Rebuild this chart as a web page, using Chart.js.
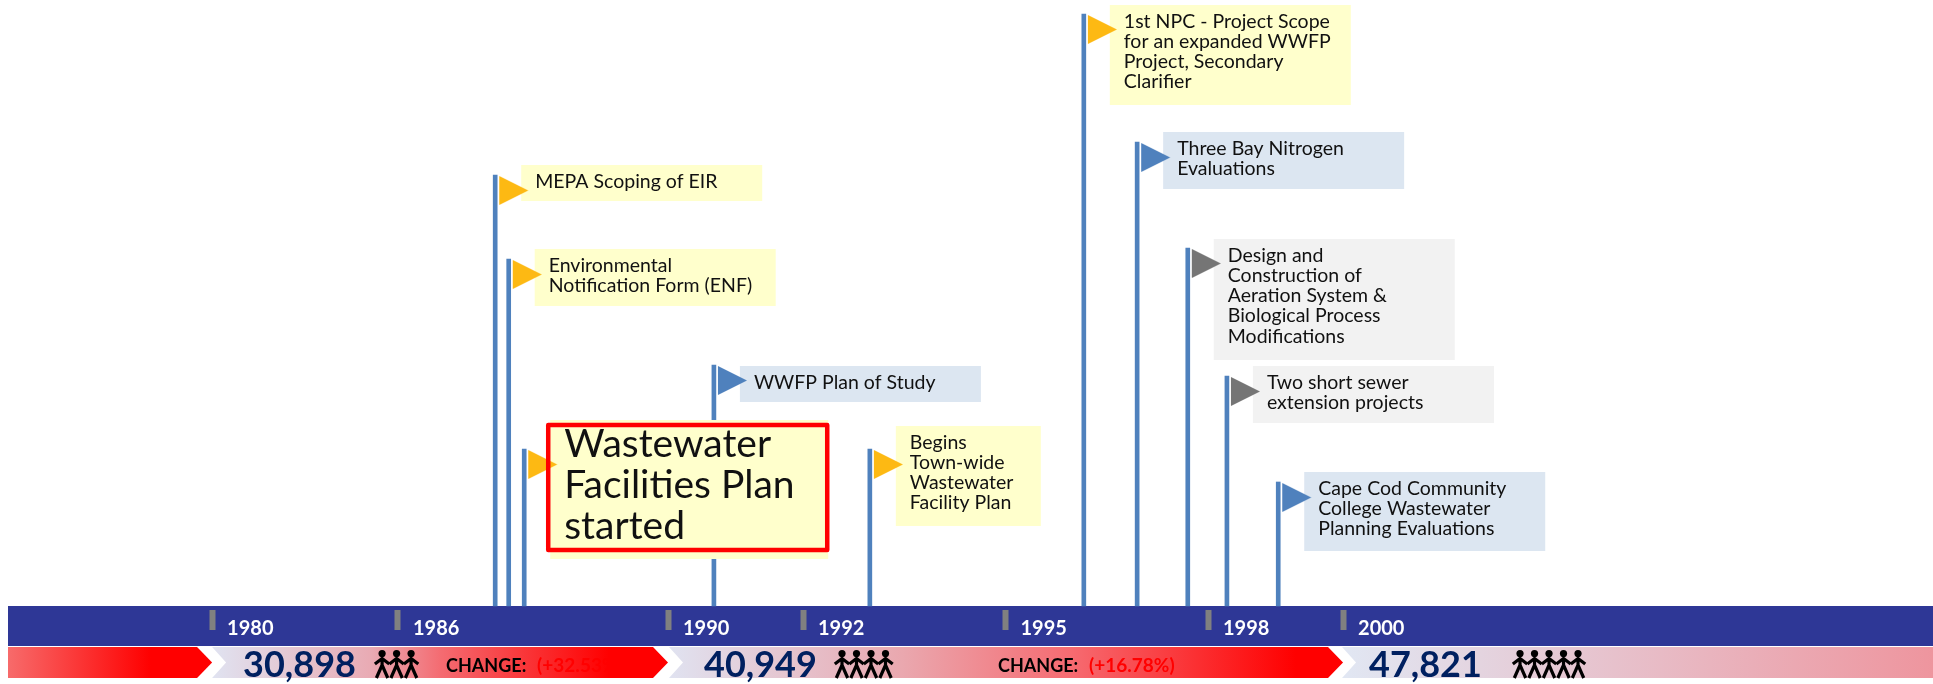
<!DOCTYPE html>
<html>
<head>
<meta charset="utf-8">
<title>Wastewater planning timeline</title>
<script src="https://cdn.jsdelivr.net/npm/chart.js@4"></script>
<style>
    html, body { margin: 0; padding: 0; background: #fff; overflow: hidden; }
    canvas { display: block; }
</style>
</head>
<body>
<canvas id="timeline" width="1933" height="684"></canvas>
<script>
// Timeline data
const tickYears = [1980, 1986, 1990, 1992, 1995, 1998, 2000];

const eventYears = [1987.44, 1987.64, 1987.87, 1990.68, 1992.99, 1996.16, 1996.95, 1997.7, 1998.28, 1999.04];
const eventHeights = [431, 347, 157, 241, 157, 592, 464, 358, 230, 124];
const eventKinds = ['yellow', 'yellow', 'yellow', 'blue', 'yellow', 'yellow', 'blue', 'grey', 'grey', 'blue'];
const eventLabels = [
    ['MEPA Scoping of EIR'],
    ['Environmental', 'Notification Form (ENF)'],
    ['Wastewater', 'Facilities Plan', 'started'],
    ['WWFP Plan of Study'],
    ['Begins', 'Town-wide', 'Wastewater', 'Facility Plan'],
    ['1st NPC - Project Scope', 'for an expanded WWFP', 'Project, Secondary', 'Clarifier'],
    ['Three Bay Nitrogen', 'Evaluations'],
    ['Design and', 'Construction of', 'Aeration System &', 'Biological Process', 'Modifications'],
    ['Two short sewer', 'extension projects'],
    ['Cape Cod Community', 'College Wastewater', 'Planning Evaluations']
];

const censusYears = [1980, 1990, 2000];
const censusPopulation = ['30,898', '40,949', '47,821'];
const censusFigures = [3, 4, 5];
const censusChange = ['(+32.53%)', '(+16.78%)'];

// Look of the boxes, in the same order as the events
const boxWidths = [241, 241, 278, 241, 145, 241, 241, 241, 241, 241];
const boxHeights = [36, 57, 139, 36, 100, 100, 57, 121, 57, 79];
const boxTops = [-10, -10, -29, 1, -23, -9, -10, -9, -10, -10];
const highlighted = 2;

const fillColors = { yellow: '#ffffcc', blue: '#dce6f1', grey: '#f2f2f2' };
const flagColors = { yellow: '#fdb913', blue: '#4f81bd', grey: '#757575' };

const populationOffsets = [31, 36, 26];
const figureOffsets = [170, 174, 177];
const changeOffsets = [234, 330];

const FONT = 'Lato, "Open Sans", sans-serif';

// The axis squeezes 1980-1986, the rest runs at a constant rate
const BREAK_YEAR = 1986;
const SQUEEZE = 0.459;

class BrokenYearScale extends Chart.LinearScale {
    getPixelForValue(value) {
        const v = value < BREAK_YEAR ? BREAK_YEAR - (BREAK_YEAR - value) * SQUEEZE : value;
        return super.getPixelForValue(v);
    }
}
BrokenYearScale.id = 'brokenYear';
BrokenYearScale.defaults = Chart.LinearScale.defaults;
Chart.register(BrokenYearScale);

function makeFlag(color) {
    // Canvas is centred on the pole top, so the triangle sits in the lower right quarter
    const c = document.createElement('canvas');
    c.width = 70;
    c.height = 60;
    const g = c.getContext('2d');
    g.fillStyle = color;
    g.beginPath();
    g.moveTo(39, 31);
    g.lineTo(68, 45.5);
    g.lineTo(39, 60);
    g.closePath();
    g.fill();
    return c;
}

function polygon(ctx, points, fill) {
    ctx.fillStyle = fill;
    ctx.beginPath();
    points.forEach((p, i) => i ? ctx.lineTo(p[0], p[1]) : ctx.moveTo(p[0], p[1]));
    ctx.closePath();
    ctx.fill();
}

function gradient(ctx, x0, x1, stops) {
    const g = ctx.createLinearGradient(x0, 0, x1, 0);
    stops.forEach(s => g.addColorStop(s[0], s[1]));
    return g;
}

function drawDoll(ctx, cx, top) {
    ctx.beginPath();
    ctx.arc(cx, top + 3.6, 3.6, 0, Math.PI * 2);
    ctx.fill();
    ctx.beginPath();
    ctx.moveTo(cx - 7.2, top + 14);
    ctx.lineTo(cx, top + 8.5);
    ctx.lineTo(cx + 7.2, top + 14);
    ctx.moveTo(cx, top + 9);
    ctx.lineTo(cx, top + 16);
    ctx.moveTo(cx - 5.7, top + 28);
    ctx.lineTo(cx, top + 15);
    ctx.lineTo(cx + 5.7, top + 28);
    ctx.stroke();
}

const ribbonPlugin = {
    id: 'ribbon',
    beforeDatasetsDraw(chart) {
        const ctx = chart.ctx;
        const xs = chart.scales.x;
        const ys = chart.scales.y;
        const bandTop = ys.getPixelForValue(0);
        const bandBottom = ys.getPixelForValue(-40);
        const top = ys.getPixelForValue(-41);
        const bottom = ys.getPixelForValue(-72);
        const mid = (top + bottom) / 2;
        const left = chart.chartArea.left + 8;
        const right = chart.chartArea.right;
        const tips = censusYears.map(y => xs.getPixelForValue(y));

        ctx.save();
        ctx.fillStyle = '#2e3796';
        ctx.fillRect(left, bandTop, right - left, bandBottom - bandTop);

        const arrow = (x0, notch, tip, fill) => polygon(ctx, [
            [x0, top], [tip - 15, top], [tip, mid], [tip - 15, bottom], [x0, bottom], [x0 + notch, mid]
        ], fill);

        // Lead-in arrow up to the first census
        arrow(left, 0, tips[0], gradient(ctx, left, tips[0], [[0, '#f76b6b'], [0.7, '#ff0000'], [1, '#ff0000']]));

        // 1980 to 1990
        arrow(tips[0], 14, tips[1], gradient(ctx, tips[0], tips[1], [
            [0, '#e0e3f1'], [0.35, '#e9aab3'], [0.5, '#f46c72'], [0.87, '#ff0000'], [1, '#ff0000']
        ]));
        // 1990 to 2000
        arrow(tips[1] + 1, 14, tips[2], gradient(ctx, tips[1], tips[2], [
            [0, '#e0e3f1'], [0.35, '#eaa7ae'], [0.6, '#f66a70'], [0.93, '#ff0000'], [1, '#ff0000']
        ]));
        // After 2000 the ribbon runs off the page
        polygon(ctx, [
            [tips[2] - 1, top], [right, top], [right, bottom], [tips[2] - 1, bottom], [tips[2] + 13, mid]
        ], gradient(ctx, tips[2], right, [[0, '#e1e7f3'], [1, '#ee959e']]));

        ctx.textAlign = 'left';
        ctx.textBaseline = 'alphabetic';
        censusPopulation.forEach((label, i) => {
            ctx.font = 'bold 36px ' + FONT;
            ctx.fillStyle = '#002060';
            ctx.fillText(label, tips[i] + populationOffsets[i], bottom - 1);

            ctx.fillStyle = '#000';
            ctx.strokeStyle = '#000';
            ctx.lineWidth = 3.2;
            for (let n = 0; n < censusFigures[i]; n++) {
                drawDoll(ctx, tips[i] + figureOffsets[i] + n * 14.5, top + 3);
            }
        });
        censusChange.forEach((label, i) => {
            const x = tips[i] + changeOffsets[i];
            ctx.font = 'bold 18px ' + FONT;
            ctx.fillStyle = '#000';
            ctx.fillText('CHANGE:', x, bottom - 6);
            ctx.font = 'bold 19px ' + FONT;
            ctx.fillStyle = '#ff0000';
            ctx.fillText(label, x + 91, bottom - 6);
        });
        ctx.restore();
    },
    // Boxes go over the poles but under the flags
    afterDatasetDraw(chart, args) {
        if (args.index !== 0) return;
        const ctx = chart.ctx;
        ctx.save();
        eventYears.forEach((year, i) => {
            const x = chart.scales.x.getPixelForValue(year);
            const y = chart.scales.y.getPixelForValue(eventHeights[i]);
            ctx.fillStyle = fillColors[eventKinds[i]];
            ctx.fillRect(x + 26, y + boxTops[i], boxWidths[i], boxHeights[i]);
        });
        ctx.restore();
    },
    afterDatasetsDraw(chart) {
        const ctx = chart.ctx;
        ctx.save();
        ctx.textAlign = 'left';
        ctx.textBaseline = 'alphabetic';
        ctx.fillStyle = '#111';
        eventYears.forEach((year, i) => {
            const x = chart.scales.x.getPixelForValue(year);
            const y = chart.scales.y.getPixelForValue(eventHeights[i]);
            const boxTop = y + boxTops[i];
            if (i === highlighted) {
                ctx.strokeStyle = '#ff0000';
                ctx.lineWidth = 4.5;
                ctx.lineJoin = 'round';
                ctx.strokeRect(x + 24, boxTop + 5, boxWidths[i] + 1, boxHeights[i] - 14);
                ctx.fillStyle = '#111';
                ctx.font = '39px ' + FONT;
                eventLabels[i].forEach((line, n) => ctx.fillText(line, x + 40, boxTop + 37 + n * 41));
            } else {
                ctx.font = '19.5px ' + FONT;
                eventLabels[i].forEach((line, n) => ctx.fillText(line, x + 40, boxTop + 22.5 + n * 20.3));
            }
        });
        ctx.restore();
    }
};

const poleData = eventYears.map((x, i) => ({ x, y: eventHeights[i] }));

new Chart(document.getElementById('timeline'), {
    type: 'bar',
    data: {
        datasets: [
            {
                label: 'Poles',
                data: poleData,
                backgroundColor: '#4f81bd',
                barThickness: 4,
                grouped: false,
                order: 2
            },
            {
                type: 'scatter',
                label: 'Flags',
                data: poleData,
                pointStyle: eventKinds.map(k => makeFlag(flagColors[k])),
                order: 1
            }
        ]
    },
    options: {
        responsive: false,
        animation: false,
        layout: { padding: 0, autoPadding: false },
        plugins: {
            legend: { display: false },
            tooltip: { enabled: false }
        },
        scales: {
            x: {
                type: 'brokenYear',
                min: 1980.104,
                max: 2008.74,
                offset: false,
                position: { y: -4 },
                border: { display: false },
                afterBuildTicks: scale => {
                    scale.ticks = tickYears.map(value => ({ value }));
                },
                grid: {
                    offset: false,
                    drawOnChartArea: false,
                    tickColor: '#808080',
                    tickWidth: 6,
                    tickLength: 20,
                    z: 1
                },
                ticks: {
                    z: 1,
                    color: '#fff',
                    align: 'start',
                    labelOffset: 15,
                    padding: -13,
                    maxRotation: 0,
                    autoSkip: false,
                    font: { family: FONT, size: 20, weight: 'bold' },
                    callback: value => String(value)
                }
            },
            y: {
                display: false,
                min: -78,
                max: 606
            }
        }
    },
    plugins: [ribbonPlugin]
});
</script>
</body>
</html>
